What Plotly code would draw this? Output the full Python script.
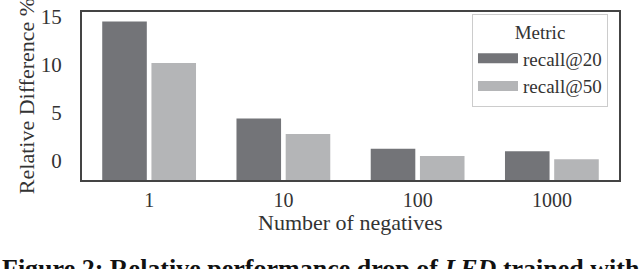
import plotly.graph_objects as go

categories = ["1", "10", "100", "1000"]
recall20 = [14.5, 4.4, 1.25, 1.0]
recall50 = [10.2, 2.8, 0.5, 0.15]
series_names = ["recall@20", "recall@50"]
y_ticks = [0, 5, 10, 15]
y_min, y_max = -2.0, 15.5

dark = "#737478"
light = "#b4b5b7"
colors = [dark, light]
font_family = "Liberation Serif, Times New Roman, serif"
text_color = "#333333"

fig = go.Figure()
for name, vals, col in zip(series_names, [recall20, recall50], colors):
    fig.add_trace(go.Bar(
        x=categories, y=[v - y_min for v in vals], base=y_min, name=name,
        marker=dict(color=col, line=dict(width=0)),
        hoverinfo="skip", showlegend=False, legendgroup=name,
    ))
# legend entries drawn as wide swatches
for name, col in zip(series_names, colors):
    fig.add_trace(go.Scatter(
        x=[None], y=[None], mode="lines", name=name, legendgroup=name,
        line=dict(color=col, width=10), hoverinfo="skip",
    ))

fig.update_layout(
    width=640, height=269,
    margin=dict(l=82, r=21, t=5, b=89),
    paper_bgcolor="white", plot_bgcolor="white",
    barmode="group", bargap=0.267, bargroupgap=0.094,
    font=dict(family=font_family, size=21, color=text_color),
    showlegend=True,
    legend=dict(
        title=dict(text="Metric", side="top center", font=dict(size=19)),
        x=0.9795, xanchor="right", y=0.99, yanchor="top",
        bordercolor="#cccccc", borderwidth=1, bgcolor="white",
        font=dict(size=19), itemwidth=40, tracegroupgap=0,
    ),
    xaxis=dict(
        type="category", range=[-0.5, 3.5],
        showgrid=False, ticks="", ticklabelstandoff=1,
        tickfont=dict(size=20),
        showline=True, linecolor="#444444", linewidth=2, mirror=True,
    ),
    yaxis=dict(
        range=[y_min, y_max], tickvals=y_ticks,
        showgrid=False, zeroline=False, ticks="", ticklabelstandoff=14,
        showline=True, linecolor="#444444", linewidth=2, mirror=True,
        title=dict(text="Relative Difference %", standoff=0, font=dict(size=22)),
    ),
    annotations=[
        dict(
            text="Number of negatives",
            xref="paper", yref="paper", x=0.5, y=-0.25, xanchor="center", yanchor="middle",
            showarrow=False, font=dict(size=22, color=text_color, family=font_family),
        ),
        dict(
            text="<b>Figure 2: Relative performance drop of <i>LED</i> trained with</b>",
            xref="paper", yref="paper", x=-82/537, y=-0.43, xanchor="left", yanchor="top",
            showarrow=False, font=dict(size=26, color="#111111", family=font_family),
        ),
    ],
)

fig.write_html("out.html", config={"displayModeBar": False},
               post_script="document.body.style.margin='0';")
